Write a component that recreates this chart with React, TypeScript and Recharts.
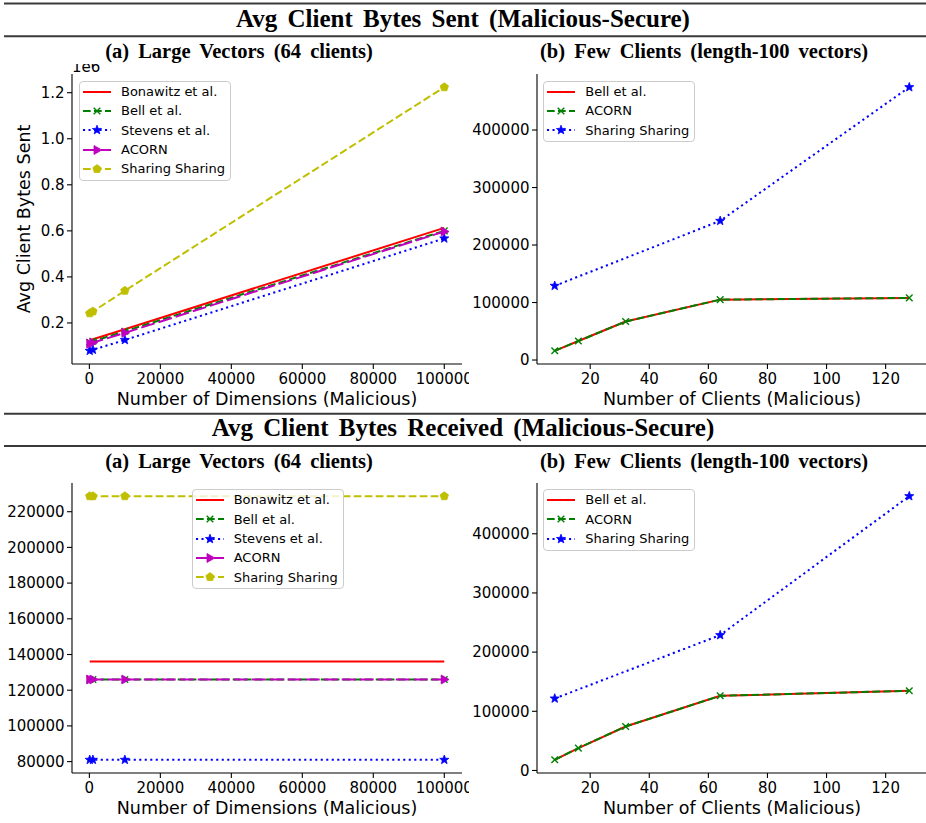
import React from "react";
import { Legend, Line, LineChart, XAxis, YAxis } from "recharts";

// x values
const DIMENSIONS = [100, 1000, 10000, 100000];
const CLIENTS = [8, 16, 32, 64, 128];

// bytes sent, large vectors (64 clients)
const SENT_LARGE_BONAWITZ = [125000, 129500, 173000, 613000];
const SENT_LARGE_BELL = [116000, 120500, 164000, 600000];
const SENT_LARGE_STEVENS = [79000, 83500, 126000, 567000];
const SENT_LARGE_ACORN = [110000, 114500, 157000, 597000];
const SENT_LARGE_SHARING = [242000, 250000, 340000, 1224000];

// bytes sent, few clients (length-100 vectors)
const SENT_FEW_BELL = [16000, 33000, 67000, 105000, 108000];
const SENT_FEW_ACORN = [16000, 33000, 67000, 105000, 108000];
const SENT_FEW_SHARING = [129000, null, null, 242000, 474500];

// bytes received, large vectors (64 clients)
const RECV_LARGE_BONAWITZ = [136100, 136100, 136100, 136100];
const RECV_LARGE_BELL = [126000, 126000, 126000, 126000];
const RECV_LARGE_STEVENS = [81000, 81000, 81000, 81000];
const RECV_LARGE_ACORN = [126000, 126000, 126000, 126000];
const RECV_LARGE_SHARING = [228700, 228700, 228700, 228700];

// bytes received, few clients (length-100 vectors)
const RECV_FEW_BELL = [18000, 37800, 74300, 126200, 134600];
const RECV_FEW_ACORN = [18000, 37800, 74300, 126200, 134600];
const RECV_FEW_SHARING = [121600, null, null, 228700, 463500];

// ticks
const DIMENSION_TICKS = [0, 20000, 40000, 60000, 80000, 100000];
const CLIENT_TICKS = [20, 40, 60, 80, 100, 120];
const SENT_LARGE_TICKS = [200000, 400000, 600000, 800000, 1000000, 1200000];
const RECV_LARGE_TICKS = [80000, 100000, 120000, 140000, 160000, 180000, 200000, 220000];
const FEW_TICKS = [0, 100000, 200000, 300000, 400000];

const FONT = "DejaVu Sans";
const SERIF = "Liberation Serif";

type MarkerKind = "none" | "x" | "star" | "tri" | "pent";

type Series = {
  key: string;
  name: string;
  color: string;
  dash?: string;
  marker: MarkerKind;
};

const LARGE_SERIES: Series[] = [
  { key: "bonawitz", name: "Bonawitz et al.", color: "#ff0000", marker: "none" },
  { key: "bell", name: "Bell et al.", color: "#008000", dash: "7.7 3.3", marker: "x" },
  { key: "stevens", name: "Stevens et al.", color: "#0000ff", dash: "2.1 3.4", marker: "star" },
  { key: "acorn", name: "ACORN", color: "#bf00bf", dash: "14 4", marker: "tri" },
  { key: "sharing", name: "Sharing Sharing", color: "#bfbf00", dash: "7.7 3.3", marker: "pent" },
];

const FEW_SERIES: Series[] = [
  { key: "bell", name: "Bell et al.", color: "#ff0000", marker: "none" },
  { key: "acorn", name: "ACORN", color: "#008000", dash: "7.7 3.3", marker: "x" },
  { key: "sharing", name: "Sharing Sharing", color: "#0000ff", dash: "2.1 3.4", marker: "star" },
];

type Row = Record<string, number | null>;

function table(xs: number[], cols: Record<string, (number | null)[]>): Row[] {
  return xs.map((x, i) => {
    const row: Row = { x };
    for (const k of Object.keys(cols)) row[k] = cols[k][i];
    return row;
  });
}

// 5% padding on both sides, like matplotlib's default margins
function padded(values: (number | null)[]): [number, number] {
  const v = values.filter((n): n is number => n != null);
  const lo = Math.min(...v);
  const hi = Math.max(...v);
  const m = (hi - lo) * 0.05;
  return [lo - m, hi + m];
}

function regular(cx: number, cy: number, r: number, n: number, rot: number) {
  const pts: string[] = [];
  for (let i = 0; i < n; i++) {
    const a = rot + (i * 2 * Math.PI) / n;
    pts.push(`${cx + r * Math.cos(a)},${cy + r * Math.sin(a)}`);
  }
  return pts.join(" ");
}

function star(cx: number, cy: number, R: number, r: number) {
  const pts: string[] = [];
  for (let i = 0; i < 10; i++) {
    const a = -Math.PI / 2 + (i * Math.PI) / 5;
    const rad = i % 2 === 0 ? R : r;
    pts.push(`${cx + rad * Math.cos(a)},${cy + rad * Math.sin(a)}`);
  }
  return pts.join(" ");
}

function Marker({ kind, cx, cy, color }: { kind: MarkerKind; cx: number; cy: number; color: string }) {
  switch (kind) {
    case "x":
      return (
        <g>
          <line x1={cx - 3.3} y1={cy - 3.3} x2={cx + 3.3} y2={cy + 3.3} stroke={color} strokeWidth={1.4} />
          <line x1={cx - 3.3} y1={cy + 3.3} x2={cx + 3.3} y2={cy - 3.3} stroke={color} strokeWidth={1.4} />
        </g>
      );
    case "star":
      return <polygon points={star(cx, cy, 4.8, 2)} fill={color} stroke={color} strokeWidth={0.8} />;
    case "tri":
      return (
        <polygon
          points={`${cx + 4.8},${cy} ${cx - 3},${cy - 4.5} ${cx - 3},${cy + 4.5}`}
          fill={color}
          stroke={color}
          strokeWidth={0.8}
        />
      );
    case "pent":
      return <polygon points={regular(cx, cy, 4.4, 5, -Math.PI / 2)} fill={color} stroke={color} strokeWidth={0.8} />;
    default:
      return null;
  }
}

function LegendBox({ series }: { series: Series[] }) {
  return (
    <div
      style={{
        width: 152,
        boxSizing: "border-box",
        border: "1px solid #cccccc",
        borderRadius: 4,
        background: "rgba(255,255,255,0.8)",
        paddingBottom: 1.5,
        fontFamily: FONT,
        fontSize: 13,
        color: "#000",
      }}
    >
      {series.map((s) => (
        <div key={s.key} style={{ height: 19.3, display: "flex", alignItems: "center" }}>
          <svg width={28} height={12} style={{ marginLeft: 3, marginRight: 10, overflow: "visible" }}>
            <line x1={0} y1={6} x2={28} y2={6} stroke={s.color} strokeWidth={2} strokeDasharray={s.dash} />
            <Marker kind={s.marker} cx={14} cy={6} color={s.color} />
          </svg>
          <span style={{ lineHeight: 1, whiteSpace: "nowrap" }}>{s.name}</span>
        </div>
      ))}
    </div>
  );
}

function XTitle({ viewBox, text }: any) {
  if (!viewBox) return null;
  return (
    <text
      x={viewBox.x + viewBox.width / 2}
      y={viewBox.y + 41}
      textAnchor="middle"
      fontSize={17.5}
      fontFamily={FONT}
      fill="#000"
    >
      {text}
    </text>
  );
}

function YTitle({ viewBox, text, offsetText }: any) {
  if (!viewBox) return null;
  const cy = viewBox.y + viewBox.height / 2;
  const tx = viewBox.x + 30;
  return (
    <g>
      {text ? (
        <text
          x={tx}
          y={cy}
          transform={`rotate(-90, ${tx}, ${cy})`}
          textAnchor="middle"
          fontSize={17.5}
          fontFamily={FONT}
          fill="#000"
        >
          {text}
        </text>
      ) : null}
      {offsetText ? (
        <text x={viewBox.x + viewBox.width} y={viewBox.y - 2.3} fontSize={15} fontFamily={FONT} fill="#000">
          {offsetText}
        </text>
      ) : null}
    </g>
  );
}

type PanelProps = {
  left: number;
  top: number;
  width: number;
  height: number;
  chartWidth: number;
  marginRight: number;
  data: Row[];
  series: Series[];
  xTicks: number[];
  xLabel: string;
  yTicks: number[];
  yFormat?: (v: number) => string;
  yLabel?: string;
  offsetText?: string;
  legendLeft: number;
  legendTop: number;
};

const AXIS_STROKE = { stroke: "#000", strokeWidth: 1.1 };

function Panel(p: PanelProps) {
  const xDomain = padded(p.data.map((r) => r.x));
  const yDomain = padded(p.data.flatMap((r) => p.series.map((s) => r[s.key])));
  return (
    <div style={{ position: "absolute", left: p.left, top: p.top, width: p.width, height: p.height, overflow: "hidden" }}>
      <LineChart
        width={p.chartWidth}
        height={p.height}
        data={p.data}
        margin={{ top: 10, right: p.marginRight, bottom: p.height - 348, left: 0 }}
      >
        <XAxis
          dataKey="x"
          type="number"
          domain={xDomain}
          allowDataOverflow
          ticks={p.xTicks}
          interval={0}
          height={48}
          tickSize={5}
          tickMargin={4.5}
          axisLine={AXIS_STROKE}
          tickLine={AXIS_STROKE}
          tick={{ fill: "#000", fontSize: 15, fontFamily: FONT }}
          label={<XTitle text={p.xLabel} />}
        />
        <XAxis xAxisId="top" orientation="top" type="number" domain={[0, 1]} height={0} tick={false} tickLine={false} axisLine={AXIS_STROKE} />
        <YAxis
          type="number"
          domain={yDomain}
          allowDataOverflow
          ticks={p.yTicks}
          interval={0}
          width={72}
          tickSize={5}
          tickMargin={2.5}
          axisLine={AXIS_STROKE}
          tickLine={AXIS_STROKE}
          tickFormatter={p.yFormat ?? ((v: number) => String(v))}
          tick={{ fill: "#000", fontSize: 15, fontFamily: FONT }}
          label={<YTitle text={p.yLabel} offsetText={p.offsetText} />}
        />
        <YAxis yAxisId="right" orientation="right" type="number" domain={[0, 1]} width={0} tick={false} tickLine={false} axisLine={AXIS_STROKE} />
        <Legend
          layout="vertical"
          align="center"
          verticalAlign="middle"
          wrapperStyle={{ left: p.legendLeft, top: p.legendTop, width: 152 }}
          content={() => <LegendBox series={p.series} />}
        />
        {p.series.map((s) => (
          <Line
            key={s.key}
            dataKey={s.key}
            name={s.name}
            type="linear"
            stroke={s.color}
            strokeWidth={2}
            strokeDasharray={s.dash}
            connectNulls
            isAnimationActive={false}
            activeDot={false}
            dot={(d: any) =>
              s.marker === "none" || d.cx == null || d.cy == null || d.value == null ? (
                <g key={`${s.key}-${d.index}`} />
              ) : (
                <g key={`${s.key}-${d.index}`}>
                  <Marker kind={s.marker} cx={d.cx} cy={d.cy} color={s.color} />
                </g>
              )
            }
          />
        ))}
      </LineChart>
    </div>
  );
}

const sentLarge = table(DIMENSIONS, {
  bonawitz: SENT_LARGE_BONAWITZ,
  bell: SENT_LARGE_BELL,
  stevens: SENT_LARGE_STEVENS,
  acorn: SENT_LARGE_ACORN,
  sharing: SENT_LARGE_SHARING,
});
const sentFew = table(CLIENTS, { bell: SENT_FEW_BELL, acorn: SENT_FEW_ACORN, sharing: SENT_FEW_SHARING });
const recvLarge = table(DIMENSIONS, {
  bonawitz: RECV_LARGE_BONAWITZ,
  bell: RECV_LARGE_BELL,
  stevens: RECV_LARGE_STEVENS,
  acorn: RECV_LARGE_ACORN,
  sharing: RECV_LARGE_SHARING,
});
const recvFew = table(CLIENTS, { bell: RECV_FEW_BELL, acorn: RECV_FEW_ACORN, sharing: RECV_FEW_SHARING });

function Rule({ y }: { y: number }) {
  return <line x1={4} x2={926} y1={y} y2={y} stroke="#3a3a3a" strokeWidth={2} />;
}

function Headings() {
  const title = { fontFamily: SERIF, fontWeight: 700, fontSize: 25, wordSpacing: 4, fill: "#000" } as const;
  const sub = { fontFamily: SERIF, fontWeight: 700, fontSize: 20.5, wordSpacing: 4, fill: "#000" } as const;
  return (
    <svg width={926} height={823} style={{ position: "absolute", left: 0, top: 0 }}>
      <Rule y={3.5} />
      <text x={463} y={26.7} textAnchor="middle" {...title}>
        Avg Client Bytes Sent (Malicious-Secure)
      </text>
      <Rule y={36.2} />
      <text x={239} y={58.3} textAnchor="middle" {...sub}>
        (a) Large Vectors (64 clients)
      </text>
      <text x={704} y={58.3} textAnchor="middle" {...sub}>
        (b) Few Clients (length-100 vectors)
      </text>
      <Rule y={413.8} />
      <text x={463} y={436.4} textAnchor="middle" {...title}>
        Avg Client Bytes Received (Malicious-Secure)
      </text>
      <Rule y={446} />
      <text x={239} y={467.8} textAnchor="middle" {...sub}>
        (a) Large Vectors (64 clients)
      </text>
      <text x={704} y={467.8} textAnchor="middle" {...sub}>
        (b) Few Clients (length-100 vectors)
      </text>
    </svg>
  );
}

export default function App() {
  return (
    <div style={{ position: "absolute", left: 0, top: 0, width: 926, height: 823, overflow: "hidden", background: "#fff" }}>
      <Headings />
      <Panel
        left={0}
        top={64}
        width={469}
        height={348}
        chartWidth={469}
        marginRight={7}
        data={sentLarge}
        series={LARGE_SERIES}
        xTicks={DIMENSION_TICKS}
        xLabel="Number of Dimensions (Malicious)"
        yTicks={SENT_LARGE_TICKS}
        yFormat={(v) => (v / 1e6).toFixed(1)}
        yLabel="Avg Client Bytes Sent"
        offsetText="1e6"
        legendLeft={79}
        legendTop={17}
      />
      <Panel
        left={465}
        top={64}
        width={461}
        height={348}
        chartWidth={465}
        marginRight={3}
        data={sentFew}
        series={FEW_SERIES}
        xTicks={CLIENT_TICKS}
        xLabel="Number of Clients (Malicious)"
        yTicks={FEW_TICKS}
        legendLeft={78.3}
        legendTop={17}
      />
      <Panel
        left={0}
        top={473}
        width={469}
        height={350}
        chartWidth={469}
        marginRight={7}
        data={recvLarge}
        series={LARGE_SERIES}
        xTicks={DIMENSION_TICKS}
        xLabel="Number of Dimensions (Malicious)"
        yTicks={RECV_LARGE_TICKS}
        legendLeft={191.7}
        legendTop={16.3}
      />
      <Panel
        left={465}
        top={473}
        width={461}
        height={350}
        chartWidth={465}
        marginRight={3}
        data={recvFew}
        series={FEW_SERIES}
        xTicks={CLIENT_TICKS}
        xLabel="Number of Clients (Malicious)"
        yTicks={FEW_TICKS}
        legendLeft={78.3}
        legendTop={16.3}
      />
    </div>
  );
}
